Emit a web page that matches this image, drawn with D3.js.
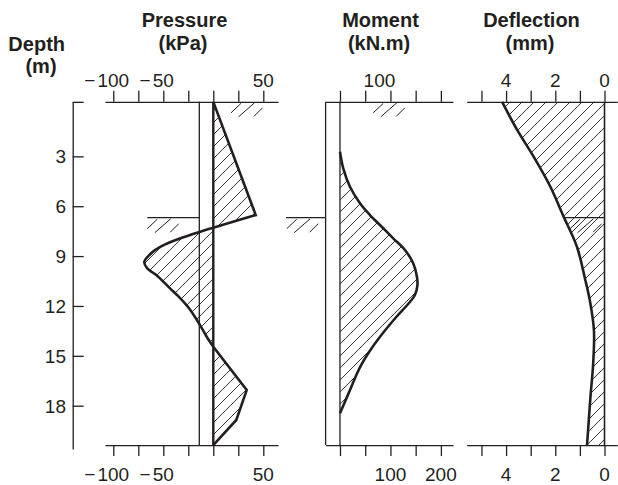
<!DOCTYPE html>
<html><head><meta charset="utf-8">
<script src="https://cdn.jsdelivr.net/npm/d3@7"></script>
<style>
html,body{margin:0;padding:0;background:#fff;}
svg{display:block;font-family:"Liberation Sans",Arial,Helvetica,sans-serif;}
</style></head><body>
<svg id="chart" width="618" height="485"></svg>
<script>
// Depth levels of the retaining wall (m)
const surfaceDepth = -0.28;
const dredgeDepth = 6.69;
const toeDepth = 20.37;
const depthTicks = [3, 6, 9, 12, 15, 18];

// Earth pressure on the wall (kPa)
const pressureTicks = [-100, -75, -50, -25, 0, 25, 50];
const pressureLabels = [-100, -50, 50];
const pressureDepth = [-0.28, 6.53, 7.29, 7.53, 7.93, 8.3, 8.63, 9.0, 9.34, 9.74, 10.14, 10.94, 11.34, 12.14, 13.15, 13.85, 14.45, 17.06, 18.86, 20.37];
const pressureValue = [0, 42.4, 0, -13, -33, -48, -58, -65, -69, -66, -57, -43.3, -36.3, -24.3, -13.3, -6.6, 0, 33.4, 23, 0];

// Bending moment (kN.m)
const momentTicks = [0, 50, 100, 150, 200];
const momentTopLabels = [100];
const momentBottomLabels = [100, 200];
const momentDepth = [2.72, 3.72, 4.83, 5.82, 6.53, 7.13, 7.93, 8.63, 9.43, 10.24, 10.74, 11.34, 11.76, 12.65, 13.75, 14.75, 15.5, 16.05, 17.26, 18.46];
const momentValue = [0, 6.5, 19.8, 39.6, 59.4, 79.2, 105.5, 128.7, 145.1, 152.5, 153.5, 148.5, 138.6, 112, 82, 58, 43, 34, 17, 0];

// Wall deflection (mm)
const deflectionTicks = [0, 1, 2, 3, 4, 5];
const deflectionLabels = [4, 2, 0];
const deflectionDepth = [-0.28, 1.41, 3.02, 4.83, 6.63, 8.44, 10.44, 11.64, 13.45, 15.45, 17.46, 20.37];
const deflectionValue = [4.16, 3.55, 2.88, 2.20, 1.66, 1.12, 0.78, 0.60, 0.43, 0.46, 0.57, 0.71];

const ink = "#231f20";
const svg = d3.select("#chart");

// Scales: one shared depth scale, one horizontal scale per panel
const y = d3.scaleLinear().domain([-0.3, 20.6]).range([101.5, 448.9]);
const xP = d3.scaleLinear().domain([-108.3, 64.7]).range([105, 278]);
const xM = d3.scaleLinear().domain([-28.5, 224]).range([325.6, 453]);
const xD = d3.scaleLinear().domain([5.6, -0.52]).range([466.7, 617.3]);

const ySurf = y(surfaceDepth), yToe = y(toeDepth), yDredge = y(dredgeDepth);

// Diagonal hatch fill
const hs = 12;
svg.append("defs").append("pattern")
  .attr("id", "hatch").attr("patternUnits", "userSpaceOnUse")
  .attr("width", hs).attr("height", hs)
  .append("path")
  .attr("d", `M0,${hs}L${hs},0M${-hs/2},${hs/2}L${hs/2},${-hs/2}M${hs/2},${hs*1.5}L${hs*1.5},${hs/2}`)
  .attr("stroke", ink).attr("stroke-width", 0.9).attr("fill", "none");

// Smooth curve through profile points, kept sharp at the listed corner indices
function profilePath(xs, depths, values, corners) {
  const pts = depths.map((d, i) => [values[i], d]);
  const line = d3.line().x(p => xs(p[0])).y(p => y(p[1])).curve(d3.curveCatmullRom.alpha(0.5));
  const cuts = [0, ...corners, pts.length - 1];
  let d = "";
  for (let k = 0; k < cuts.length - 1; k++) {
    const s = line(pts.slice(cuts[k], cuts[k + 1] + 1));
    d += k === 0 ? s : s.replace(/^M/, "L");
  }
  return d;
}

const pressurePath = profilePath(xP, pressureDepth, pressureValue, [1, 16, 17, 18]);
const momentPath = profilePath(xM, momentDepth, momentValue, []);
const deflectionPath = profilePath(xD, deflectionDepth, deflectionValue, []);

// Hatched areas
svg.append("path").attr("d", pressurePath + "Z").attr("fill", "url(#hatch)");
svg.append("path").attr("d", momentPath + "Z").attr("fill", "url(#hatch)");
svg.append("path")
  .attr("d", deflectionPath + `L${xD(0)},${yToe}L${xD(0)},${ySurf}Z`)
  .attr("fill", "url(#hatch)");

function vline(x, y1, y2, w) {
  svg.append("line").attr("x1", x).attr("x2", x).attr("y1", y1).attr("y2", y2)
    .attr("stroke", ink).attr("stroke-width", w);
}
function hline(x1, x2, yy, w) {
  svg.append("line").attr("x1", x1).attr("x2", x2).attr("y1", yy).attr("y2", yy)
    .attr("stroke", ink).attr("stroke-width", w);
}

// Soil symbol: three short slashes under a ground line
function soil(x0, y0) {
  const strokes = [[0, 11, 10, 1.5], [7.5, 15, 23.5, 1], [23, 14.5, 31.5, 6]];
  strokes.forEach(s => {
    svg.append("line")
      .attr("x1", x0 + s[0]).attr("y1", y0 + s[1])
      .attr("x2", x0 + s[2]).attr("y2", y0 + s[3])
      .attr("stroke", ink).attr("stroke-width", 1);
  });
}

// Wall faces and zero lines
vline(xP(-14), ySurf, yToe, 1.3);
vline(xP(0), ySurf, yToe, 2.4);
vline(xM(-28.5), ySurf, yToe, 1.3);
vline(xM(0), ySurf, yToe, 1.3);
vline(xD(0), ySurf, yToe, 1.6);

// Excavation level in front of the wall
hline(xP(-66), xP(-14), yDredge, 1.3);
hline(xM(-107), xM(-28.5), yDredge, 1.3);
const deflAt = d3.scaleLinear().domain(deflectionDepth).range(deflectionValue);
hline(xD(deflAt(dredgeDepth)), xD(0), yDredge, 1.3);

soil(xP(17.7), ySurf);
soil(xP(-66), yDredge);
soil(xM(66), ySurf);
soil(xM(-105.6), yDredge);
soil(xD(1.4), yDredge);

// Horizontal axes (top and bottom of each panel)
function hAxis(gen, scale, ticks, yPos) {
  const g = svg.append("g").attr("transform", `translate(0,${yPos})`)
    .call(gen(scale).tickValues(ticks).tickSize(11).tickSizeOuter(0).tickFormat(""));
  g.select(".domain").attr("stroke", ink).attr("stroke-width", 1.3);
  g.selectAll(".tick line").attr("stroke", ink).attr("stroke-width", 1.3);
}
hAxis(d3.axisTop, xP, pressureTicks, ySurf);
hAxis(d3.axisBottom, xP, pressureTicks, yToe);
hAxis(d3.axisTop, xM, momentTicks, ySurf);
hAxis(d3.axisBottom, xM, momentTicks, yToe);
hAxis(d3.axisTop, xD, deflectionTicks, ySurf);
hAxis(d3.axisBottom, xD, deflectionTicks, yToe);

// Tick labels: digits centred on the tick, minus sign set just before them
function tickLabels(scale, values, base, shift) {
  values.forEach(v => {
    const x = scale(v) + (shift || 0);
    const t = svg.append("text").attr("x", x).attr("y", base)
      .attr("text-anchor", "middle").attr("font-size", 19).attr("fill", ink)
      .text(String(Math.abs(v)));
    if (v < 0) {
      const w = t.node().getComputedTextLength();
      svg.append("text").attr("x", x - w / 2 - 2).attr("y", base)
        .attr("text-anchor", "end").attr("font-size", 19).attr("fill", ink)
        .text("\u2212");
    }
  });
}
tickLabels(xP, pressureLabels, 87, 0);
tickLabels(xP, pressureLabels, 481, 0);
tickLabels(xM, momentTopLabels, 87, -11);
tickLabels(xM, momentBottomLabels, 481, 0);
tickLabels(xD, deflectionLabels, 87, 0);
tickLabels(xD, deflectionLabels, 481, 0);

// Depth axis
const dAxis = svg.append("g").attr("transform", "translate(72.7,0)")
  .call(d3.axisRight(y).tickValues([surfaceDepth, ...depthTicks]).tickSize(11).tickSizeOuter(0).tickFormat(""));
dAxis.select(".domain").attr("stroke", ink).attr("stroke-width", 1.3);
dAxis.selectAll(".tick line").attr("stroke", ink).attr("stroke-width", 1.3);
depthTicks.forEach(d => {
  svg.append("text").attr("x", 66).attr("y", y(d)).attr("dy", "0.36em")
    .attr("text-anchor", "end").attr("font-size", 19).attr("fill", ink).text(d);
});

// Profile outlines
[pressurePath, momentPath, deflectionPath].forEach(p => {
  svg.append("path").attr("d", p).attr("fill", "none")
    .attr("stroke", ink).attr("stroke-width", 2.6)
    .attr("stroke-linejoin", "miter").attr("stroke-linecap", "butt");
});

// Titles
function title(x, yy, txt) {
  svg.append("text").attr("x", x).attr("y", yy).attr("text-anchor", "middle")
    .attr("font-size", 20).attr("font-weight", "bold").attr("fill", ink).text(txt);
}
title(184.5, 27, "Pressure");
title(183, 50, "(kPa)");
title(380.5, 26.5, "Moment");
title(379, 50, "(kN.m)");
title(531.5, 26.5, "Deflection");
title(530, 50, "(mm)");
title(36.7, 51, "Depth");
title(41, 73, "(m)");
</script>
</body></html>
